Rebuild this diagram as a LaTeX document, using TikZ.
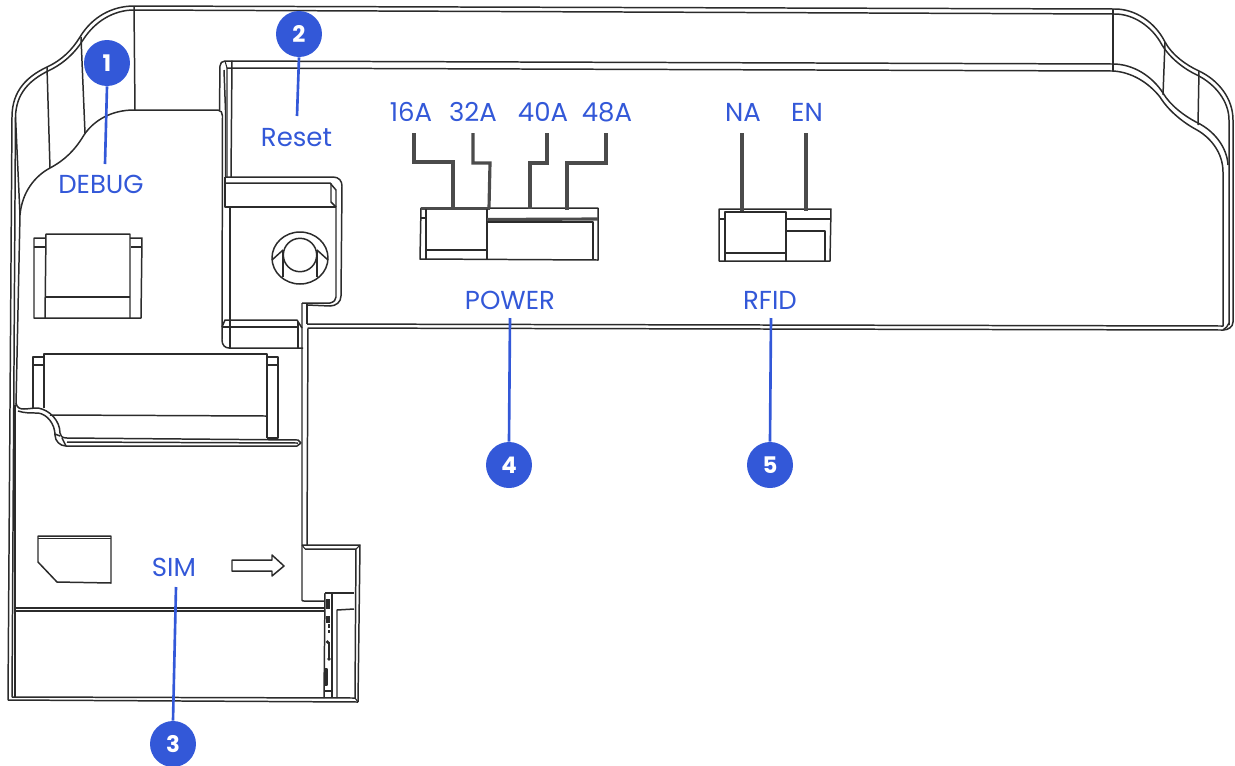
\documentclass[tikz,border=0pt]{standalone}
\usepackage{fontspec}
\setmainfont{Poppins}
\definecolor{lineink}{HTML}{2B2B2B}
\definecolor{bluelead}{HTML}{3358D8}
\begin{document}
\begin{tikzpicture}[x=0.02cm,y=-0.02cm,
  ink/.style={draw=lineink,line width=0.85pt,line join=round},
  inkfine/.style={draw=lineink,line width=0.6pt,line join=round},
  heavy/.style={draw=lineink!85,line width=1.8pt},
  lbl/.style={text=bluelead,font=\fontsize{14.8}{17}\selectfont,inner sep=0pt},
  badge/.style={circle,fill=bluelead,text=white,minimum size=0.92cm,inner sep=0pt,font=\fontsize{13}{15}\selectfont\bfseries},
  lead/.style={draw=bluelead,line width=1.5pt}]
\useasboundingbox (0,0) rectangle (1235,765);
% outer shell
\draw[ink] (8,700) -- (12,117) .. controls (12,90) and (28,76) .. (47,67) .. controls (62,60) and (72,50) .. (80,37) .. controls (92,17) and (112,6) .. (134,6) -- (1115,9) .. controls (1135,9) and (1155,22) .. (1165,42) .. controls (1172,55) and (1186,65) .. (1199,71) .. controls (1218,80) and (1233,98) .. (1233,120) -- (1233,322) .. controls (1233,327) and (1228,330) .. (1223,330) -- (308,328) -- (307,545);
\draw[ink] (12,697) -- (15.5,117) .. controls (16,93) and (30,80) .. (48,71) .. controls (63,64) and (75,53) .. (83,40) .. controls (95,21) and (114,10) .. (134,10) -- (1115,14) .. controls (1133,14) and (1152,26) .. (1162,45) .. controls (1170,58) and (1184,69) .. (1197,75) .. controls (1215,84) and (1229,101) .. (1229,120) -- (1229,325);
\draw[ink] (15.5,117) -- (20,215);
% top frame bands
\draw[ink] (219.5,110) -- (220,66) .. controls (220,63) and (222,61) .. (225,61) -- (1113,64) .. controls (1133,64) and (1152,76) .. (1163,93) .. controls (1170,105) and (1184,116) .. (1198,123) .. controls (1214,131) and (1227,147) .. (1228,165);
\draw[ink] (227,177) -- (227,68) -- (1113,71) .. controls (1131,72) and (1148,82) .. (1160,97) .. controls (1168,110) and (1182,122) .. (1197,130) .. controls (1211,138) and (1223,153) .. (1223,172) -- (1223,326) -- (307,324);
\draw[ink] (1223,330) .. controls (1226,328) and (1228,326) .. (1229,323);
\draw[ink] (232,60.5) -- (231,177);
\draw[ink] (224,70) -- (225.5,110) -- (225.5,177);
\draw[inkfine] (225,61) -- (227,68);
% radial separators
\draw[ink] (47,67) -- (50,168);
\draw[ink] (81,37) -- (85,133);
\draw[ink] (134,6) -- (135,110);
\draw[ink] (1113,9) -- (1113,71);
\draw[ink] (1165,42) -- (1163,95);
\draw[ink] (1199,71) -- (1198,125);
% debug pocket edge
\draw[ink] (20,215) .. controls (22,192) and (35,176) .. (50,168) .. controls (65,160) and (75,150) .. (84,135) .. controls (94,120) and (112,110) .. (134,110) -- (218,110) .. controls (221,110) and (222.5,113) .. (222.5,116) -- (222,340) .. controls (222,345) and (225,348) .. (229,348) -- (303,348);
\draw[ink] (20,215) -- (16,405);
% reset block
\draw[ink] (225,177) -- (333,177) .. controls (339,177) and (342,181) .. (342,186) -- (341,296) .. controls (341,302) and (336,306) .. (330,306) -- (307,305);
\draw[ink] (302,303) -- (302,600) .. controls (302,601) and (303,601) .. (304,601) -- (325,601);
\draw[ink] (302,303) -- (330,303) .. controls (334,302) and (336,300) .. (336,297) -- (336,190) -- (330,183) -- (225,183);
\draw[ink] (225,177) -- (225,207) -- (336,207);
\draw[ink] (331,183) -- (331,202) -- (336,207);
\draw[ink] (230,207) -- (230,320);
\draw[ink] (307,304) -- (307,324);
\draw[ink] (222,327) -- (225,320) -- (297,320) -- (302,328);
\draw[ink] (222,327) -- (298,327);
\draw[ink] (230,320) -- (230,348);
\draw[ink] (298,322) -- (298,348);
% reset button
\draw[ink] (300,258) ellipse [x radius=28,y radius=26];
\draw[ink] (300,255) circle [radius=16.7];
\draw[ink] (283,250) -- (283,277);
\draw[ink] (317,250) -- (317,277);
\draw[ink] (272,260) -- (283,250);
\draw[ink] (328,260) -- (317,250);
% debug connector
\draw[ink] (45,238) -- (34,238) -- (34,318) -- (141,318) -- (142,238) -- (130,238);
\draw[ink] (45,318) -- (46,234) -- (130,234) -- (130,318);
\draw[ink] (45,297) -- (130,297);
\draw[inkfine] (34,247) -- (45,247);
\draw[inkfine] (131,247) -- (142,247);
% wide connector
\draw[ink] (44,357) -- (33,357) -- (33,408);
\draw[ink] (44,408) -- (44,354) -- (267,354) -- (267,438);
\draw[ink] (267,357) -- (278,357) -- (278,438) -- (267,438);
\draw[inkfine] (33,365) -- (44,365);
\draw[inkfine] (267,365) -- (278,365);
\draw[ink] (50,415) -- (266,416);
% wavy band
\draw[ink] (16,403) .. controls (17,408) and (20,409) .. (24,409) .. controls (28,409) and (32,408) .. (38,408) .. controls (50,410) and (60,421) .. (60,433) .. controls (60,436) and (62,438) .. (67,438) -- (298,440) -- (301,443);
\draw[ink] (18,411) .. controls (24,413) and (30,413) .. (38,413) .. controls (47,414) and (55,424) .. (55,435) .. controls (55,441) and (60,446) .. (66,446) -- (297,446) -- (301,443);
\draw[ink] (67,442) -- (298,443);
\draw[ink] (55,434) -- (60,436);
\draw[ink] (62,438) -- (66,446);
% lower body
\draw[ink] (15,405) -- (15,698);
\draw[ink] (15,608) -- (325,608);
\draw[ink] (15,611) -- (325,611);
\draw[ink] (8,700) -- (358,702);
\draw[ink] (12,697) -- (355,698);
\draw[ink] (302,545) -- (360,545) -- (358,702);
\draw[ink] (305,549) -- (356,549) -- (355,698);
\draw[inkfine] (302,545) -- (305,549);
\draw[inkfine] (360,545) -- (356,549);
\draw[inkfine] (355,698) -- (358,702);
% end panel
\draw[ink] (325,593) -- (354,593);
\draw[ink] (325,593) -- (324,698);
\draw[ink] (332,593) -- (332,698);
\draw[ink] (354,609) -- (337,610) -- (337,698);
\draw[inkfine] (324,691) -- (332,691);
\fill[lineink] (326,599) rectangle (330,609);
\fill[lineink] (326,616) rectangle (330,623);
\fill[lineink] (328,624) rectangle (330,628);
\fill[lineink] (327.5,630) rectangle (330,633);
\fill[lineink] (327.5,642) circle [radius=1.8];
\draw[inkfine] (329,642) -- (329,658);
\fill[lineink] (329,659) circle [radius=1.8];
\draw[inkfine] (325,669) rectangle (327,685);
% SIM slot and arrow
\draw[ink] (38,536) -- (111,536) -- (111,583) -- (57,582) -- (38,562) -- cycle;
\draw[ink] (38,538.5) -- (111,538.5);
\draw[ink] (232,560) -- (272,560) -- (272,555) -- (284,566) -- (272,576) -- (272,571) -- (232,571) -- cycle;
% power switch
\draw[ink] (421,208) -- (598,208) -- (598,260) -- (420,259) -- cycle;
\draw[heavy] (421,208.5) -- (490,208.5);
\draw[ink] (426,209) -- (426,259.5);
\draw[ink] (487,209) -- (487,260);
\draw[ink] (426,250) -- (487,250);
\draw[inkfine] (421,218) -- (426,218);
\draw[heavy] (487,219.5) -- (598,219);
\draw[ink] (487,222) -- (593,222) -- (593,260);
% RFID switch
\draw[ink] (719,209) -- (831,209) -- (830,261) -- (719,261) -- cycle;
\draw[ink] (725,261) -- (725,212) -- (786,212) -- (786,261);
\draw[ink] (725,253) -- (786,253);
\draw[inkfine] (719,219) -- (725,219);
\draw[ink] (786,219) -- (831,219);
\draw[ink] (787,231) -- (825,231) -- (825,261);
% pins
\draw[heavy] (414,133) -- (414,162) -- (453,162) -- (453,208);
\draw[heavy] (473,133) -- (473,163) -- (490,163) -- (489,208);
\draw[heavy] (547,133) -- (547,163) -- (530,163) -- (530,209);
\draw[heavy] (606,133) -- (606,163) -- (567,163) -- (567,210);
\draw[heavy] (742,133) -- (742,211);
\draw[heavy] (806,133) -- (806,211);
% labels
\node[lbl] (tdebug) at (101,184) {DEBUG};
\node[lbl] (treset) at (296.5,138) {Reset};
\node[lbl] (tsim) at (174,567) {SIM};
\node[lbl] (t16) at (411,112) {16A};
\node[lbl] (t32) at (473,112) {32A};
\node[lbl] (t40) at (543,112) {40A};
\node[lbl] (t48) at (607,112) {48A};
\node[lbl] (tna) at (743,112) {NA};
\node[lbl] (ten) at (807,112) {EN};
\node[lbl] (tpower) at (510,300) {POWER};
\node[lbl] (trfid) at (770,300) {RFID};
% callouts
\node[badge] (n1) at (107,63) {1};
\node[badge] (n2) at (299,34) {2};
\node[badge] (n3) at (173,744) {3};
\node[badge] (n4) at (509,465) {4};
\node[badge] (n5) at (770,465) {5};
\coordinate (e1) at (105,164);
\coordinate (e2) at (297,116);
\coordinate (e3) at (176,587);
\coordinate (e4) at (510,318);
\coordinate (e5) at (771,318);
\draw[lead] (n1.south) -- (e1);
\draw[lead] (n2.south) -- (e2);
\draw[lead] (n3.north) -- (e3);
\draw[lead] (n4.north) -- (e4);
\draw[lead] (n5.north) -- (e5);
\end{tikzpicture}
\end{document}
